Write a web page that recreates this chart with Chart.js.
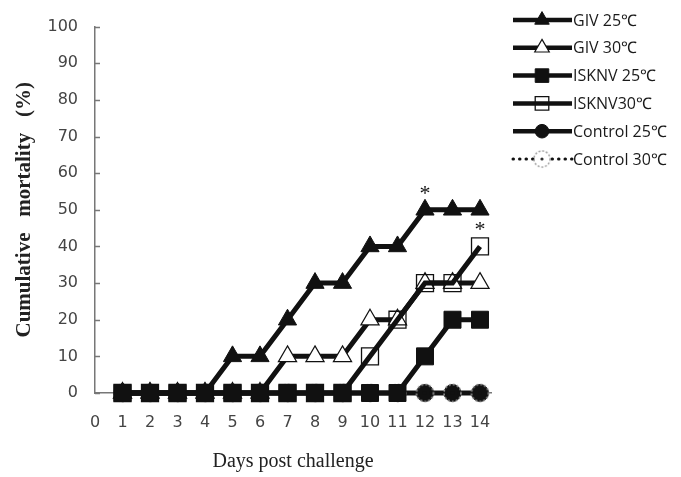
<!DOCTYPE html>
<html>
<head>
<meta charset="utf-8">
<script src="https://cdn.jsdelivr.net/npm/chart.js@4.4.0/dist/chart.umd.min.js"></script>
<style>
    html, body { margin: 0; padding: 0; background: #fff; }
    #wrap { width: 681px; height: 477px; }
</style>
</head>
<body>
<div id="wrap"><canvas id="mortality-chart" width="681" height="477"></canvas></div>
<script>
// Days after challenge (x values) and x tick labels
const days = [1, 2, 3, 4, 5, 6, 7, 8, 9, 10, 11, 12, 13, 14];
const xTickLabels = ['0', '1', '2', '3', '4', '5', '6', '7', '8', '9', '10', '11', '12', '13', '14'];
const yTickLabels = ['0', '10', '20', '30', '40', '50', '60', '70', '80', '90', '100'];

// Cumulative mortality (%) per group
const giv25 = [0, 0, 0, 0, 10, 10, 20, 30, 30, 40, 40, 50, 50, 50];
const giv30 = [0, 0, 0, 0, 0, 0, 10, 10, 10, 20, 20, 30, 30, 30];
const isknv25 = [0, 0, 0, 0, 0, 0, 0, 0, 0, 0, 0, 10, 20, 20];
const isknv30 = [0, 0, 0, 0, 0, 0, 0, 0, 0, 10, 20, 30, 30, 40];
const control25 = [0, 0, 0, 0, 0, 0, 0, 0, 0, 0, 0, 0, 0, 0];
const control30 = [0, 0, 0, 0, 0, 0, 0, 0, 0, 0, 0, 0, 0, 0];

// Significance marks: [series label, day]
const significant = [['GIV 25℃', 12], ['ISKNV30℃', 14]];

// dotted circle used as the Control 30 marker
function dottedCircle(r) {
    const c = document.createElement('canvas');
    c.width = c.height = r * 2 + 4;
    const g = c.getContext('2d');
    g.setLineDash([2, 2]);
    g.lineWidth = 1.5;
    g.strokeStyle = '#999';
    g.beginPath();
    g.arc(r + 2, r + 2, r, 0, Math.PI * 2);
    g.stroke();
    return c;
}
const dotted = dottedCircle(8.5);

function toPoints(values) {
    return values.map((v, i) => ({ x: days[i], y: v }));
}

function series(label, values, opts) {
    return Object.assign({
        label: label,
        data: toPoints(values),
        borderColor: '#111',
        backgroundColor: '#111',
        borderWidth: 5,
        pointBorderColor: '#111',
        pointBorderWidth: 1,
        clip: false,
        tension: 0
    }, opts);
}

const datasets = [
    series('GIV 25℃', giv25, { pointStyle: 'triangle', pointRadius: 10.5, pointBackgroundColor: '#111', order: 4 }),
    series('GIV 30℃', giv30, { pointStyle: 'triangle', pointRadius: 10.5, pointBackgroundColor: '#fff', pointBorderWidth: 1.2, order: 3 }),
    series('ISKNV 25℃', isknv25, { pointStyle: 'rect', pointRadius: 12, pointBackgroundColor: '#111', order: 1 }),
    series('ISKNV30℃', isknv30, { pointStyle: 'rect', pointRadius: 12, pointBackgroundColor: 'rgba(0,0,0,0)', pointBorderWidth: 1.3, order: 2 }),
    series('Control 25℃', control25, { pointStyle: 'circle', pointRadius: 8.5, pointBackgroundColor: '#111', order: 6 }),
    series('Control 30℃', control30, { pointStyle: dotted, pointRadius: 8, borderDash: [2, 5], borderWidth: 3, borderCapStyle: 'round', order: 5 })
];

// Custom legend: line + marker, drawn in the right margin
const legendPlugin = {
    id: 'sideLegend',
    afterDraw(chart) {
        const ctx = chart.ctx;
        const x0 = 513, x1 = 572, xm = 542, top = 20, step = 27.8;
        chart.data.datasets.forEach((ds, i) => {
            const y = top + i * step;
            ctx.save();
            ctx.strokeStyle = '#111';
            ctx.lineWidth = ds.borderDash ? 3 : 4.5;
            ctx.lineCap = ds.borderDash ? 'round' : 'butt';
            ctx.setLineDash(ds.borderDash ? [0.5, 6] : []);
            ctx.beginPath();
            ctx.moveTo(x0, y);
            ctx.lineTo(x1, y);
            ctx.stroke();
            ctx.setLineDash([]);
            if (ds.pointStyle === dotted) {
                ctx.fillStyle = '#fff';
                ctx.beginPath();
                ctx.arc(xm, y, 7, 0, Math.PI * 2);
                ctx.fill();
                ctx.drawImage(dotted, xm - 10, y - 10, 20, 20);
                ctx.fillStyle = '#333';
                ctx.beginPath();
                ctx.arc(xm, y, 1.6, 0, Math.PI * 2);
                ctx.fill();
            } else {
                ctx.fillStyle = ds.pointBackgroundColor;
                ctx.strokeStyle = '#111';
                ctx.lineWidth = ds.pointBorderWidth;
                Chart.helpers.drawPoint(ctx, {
                    pointStyle: ds.pointStyle,
                    radius: ds.pointRadius * 0.8,
                    rotation: 0,
                    borderWidth: ds.pointBorderWidth
                }, xm, y);
            }
            ctx.fillStyle = '#1a1a1a';
            ctx.font = '16px "Open Sans", sans-serif';
            ctx.textBaseline = 'middle';
            ctx.textAlign = 'left';
            ctx.fillText(ds.label, x1 + 1, y + 1);
            ctx.restore();
        });
    }
};

// Inward tick marks on the y axis and significance asterisks
const extrasPlugin = {
    id: 'extras',
    afterDraw(chart) {
        const ctx = chart.ctx;
        const ys = chart.scales.y;
        ctx.save();
        ctx.strokeStyle = '#777';
        ctx.lineWidth = 1.5;
        yTickLabels.forEach(t => {
            const py = Math.round(ys.getPixelForValue(Number(t))) + 0.5;
            ctx.beginPath();
            ctx.moveTo(ys.right, py);
            ctx.lineTo(ys.right + 5, py);
            ctx.stroke();
        });
        ctx.fillStyle = '#111';
        ctx.font = '22px "Liberation Serif", serif';
        ctx.textAlign = 'center';
        ctx.textBaseline = 'alphabetic';
        significant.forEach(([label, day]) => {
            const di = chart.data.datasets.findIndex(d => d.label === label);
            const pt = chart.getDatasetMeta(di).data[days.indexOf(day)];
            ctx.fillText('*', pt.x, pt.y - 10);
        });
        ctx.restore();
    }
};

new Chart(document.getElementById('mortality-chart'), {
    type: 'line',
    data: { datasets: datasets },
    options: {
        responsive: false,
        animation: false,
        layout: { padding: { top: 20, right: 190, left: 0, bottom: 0 } },
        plugins: {
            legend: { display: false },
            tooltip: { enabled: false }
        },
        scales: {
            x: {
                type: 'linear',
                min: 0,
                max: 14.4,
                afterFit(scale) { scale.height = 84; },
                grid: { display: false, drawTicks: false },
                border: { color: '#777', width: 1.5 },
                ticks: {
                    stepSize: 1,
                    includeBounds: false,
                    autoSkip: false,
                    maxRotation: 0,
                    padding: 20,
                    color: '#444',
                    font: { family: '"DejaVu Sans", sans-serif', size: 16 },
                    callback: v => xTickLabels[v]
                },
                title: {
                    display: true,
                    text: 'Days post challenge',
                    color: '#222',
                    font: { family: '"Liberation Serif", serif', size: 20 },
                    padding: { top: 0, bottom: 3 }
                }
            },
            y: {
                min: 0,
                max: 100,
                afterFit(scale) { scale.width = 95; },
                grid: { display: false, drawTicks: false },
                border: { color: '#777', width: 1.5 },
                ticks: {
                    stepSize: 10,
                    padding: 17,
                    color: '#444',
                    font: { family: '"DejaVu Sans", sans-serif', size: 16 },
                    callback: (v, i) => yTickLabels[i]
                },
                title: {
                    display: true,
                    text: 'Cumulative   mortality   (%)',
                    color: '#222',
                    font: { family: '"Liberation Serif", serif', size: 21, weight: 'bold' },
                    padding: { top: 12, bottom: 0 }
                }
            }
        }
    },
    plugins: [legendPlugin, extrasPlugin]
});
</script>
</body>
</html>
